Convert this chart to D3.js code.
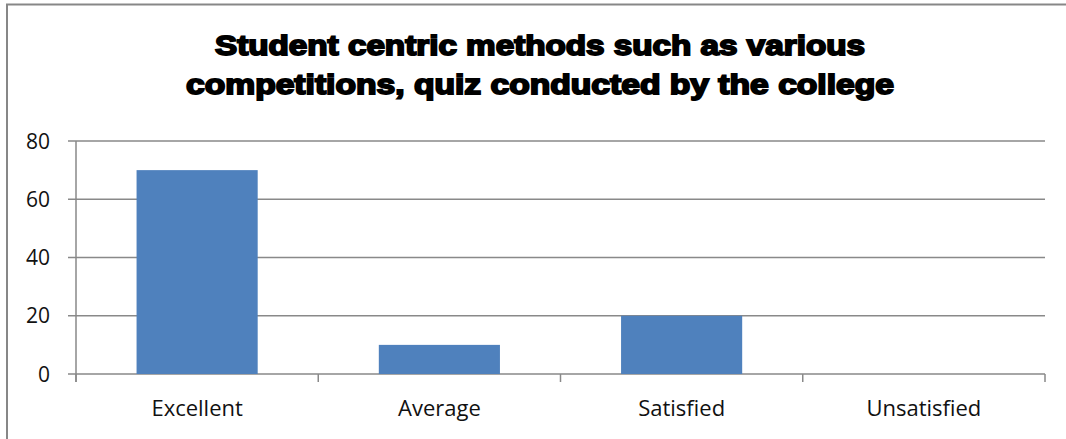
<!DOCTYPE html>
<html>
<head>
<meta charset="utf-8">
<script src="https://cdn.jsdelivr.net/npm/d3@7"></script>
<style>
  body { margin: 0; background: #fff; }
  svg { display: block; }
</style>
</head>
<body>
<div id="container"></div>
<script>
var w = 1066;
var h = 439;

var categories = ["Excellent", "Average", "Satisfied", "Unsatisfied"];
var values = [70, 10, 20, 0];
var yTicks = [0, 20, 40, 60, 80];
var titleLines = ["Student centric methods such as various",
                  "competitions, quiz conducted by the college"];

var svg = d3.select("div#container").append("svg")
    .attr("width", w).attr("height", h)
    .style("background-color", "white");

// outer chart border (right and bottom fall outside the picture)
svg.append("rect")
    .attr("x", 7).attr("y", 4.5)
    .attr("width", w + 20).attr("height", h + 20)
    .attr("fill", "none")
    .attr("stroke", "#878787")
    .attr("stroke-width", 2);

var plotLeft = 76, plotRight = 1045, plotTop = 141, plotBottom = 374;

var x = d3.scaleBand()
    .domain(categories)
    .range([plotLeft, plotRight])
    .paddingInner(0.5)
    .paddingOuter(0.25);

var y = d3.scaleLinear()
    .domain([0, 80])
    .range([plotBottom, plotTop]);

// gridlines
svg.append("g")
  .selectAll("line")
  .data(yTicks)
  .enter().append("line")
    .attr("x1", plotLeft - 8)
    .attr("x2", plotRight)
    .attr("y1", function(d) { return y(d); })
    .attr("y2", function(d) { return y(d); })
    .attr("stroke", "#898989")
    .attr("stroke-width", 1.5);

// y axis line
svg.append("line")
    .attr("x1", plotLeft).attr("x2", plotLeft)
    .attr("y1", plotTop).attr("y2", plotBottom + 8)
    .attr("stroke", "#898989")
    .attr("stroke-width", 1.5);

// x tick marks at band edges
var edges = categories.map(function(c) { return x(c) - x.step() * x.paddingInner() / 2; });
edges.push(plotRight);
svg.append("g")
  .selectAll("line")
  .data(edges)
  .enter().append("line")
    .attr("x1", function(d) { return d; })
    .attr("x2", function(d) { return d; })
    .attr("y1", plotBottom)
    .attr("y2", plotBottom + 8)
    .attr("stroke", "#898989")
    .attr("stroke-width", 1.5);

// bars
svg.append("g")
  .selectAll("rect")
  .data(values)
  .enter().append("rect")
    .attr("x", function(d, i) { return x(categories[i]); })
    .attr("y", function(d) { return y(d); })
    .attr("width", x.bandwidth())
    .attr("height", function(d) { return y(0) - y(d); })
    .attr("fill", "#4F81BD");

// y labels
svg.append("g")
  .selectAll("text")
  .data(yTicks)
  .enter().append("text")
    .attr("x", 50)
    .attr("y", function(d) { return y(d); })
    .attr("dy", "0.36em")
    .attr("text-anchor", "end")
    .attr("font-family", "'Open Sans', sans-serif")
    .attr("font-size", 21)
    .attr("fill", "#111")
    .text(function(d) { return d; });

// x labels
svg.append("g")
  .selectAll("text")
  .data(categories)
  .enter().append("text")
    .attr("x", function(d) { return x(d) + x.bandwidth() / 2; })
    .attr("y", 416)
    .attr("text-anchor", "middle")
    .attr("font-family", "'Open Sans', sans-serif")
    .attr("font-size", 22)
    .attr("fill", "#111")
    .text(function(d) { return d; });

// title
var titleWidths = [650, 708];
svg.append("g")
  .selectAll("text")
  .data(titleLines)
  .enter().append("text")
    .attr("x", 540)
    .attr("y", function(d, i) { return 55 + i * 39; })
    .attr("text-anchor", "middle")
    .attr("font-family", "'Liberation Sans', Arial, sans-serif")
    .attr("font-weight", "bold")
    .attr("font-size", 27)
    .attr("fill", "#000")
    .attr("stroke", "#000")
    .attr("stroke-width", 1.8)
    .attr("textLength", function(d, i) { return titleWidths[i]; })
    .attr("lengthAdjust", "spacingAndGlyphs")
    .text(function(d) { return d; });
</script>
</body>
</html>
